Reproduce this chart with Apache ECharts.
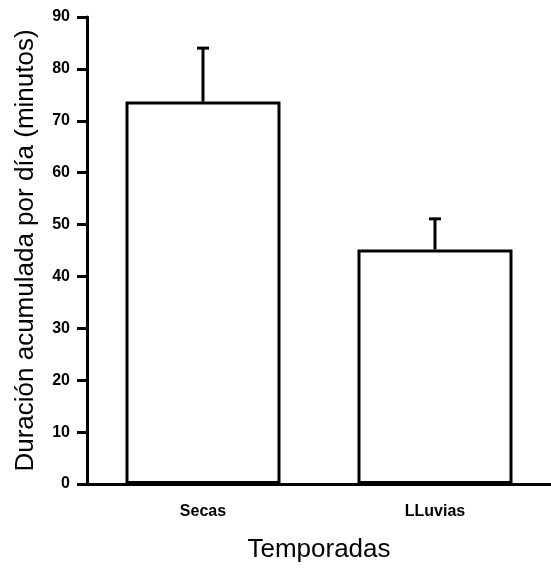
<!DOCTYPE html>
<html>
<head>
<meta charset="utf-8">
<script src="https://cdn.jsdelivr.net/npm/echarts@6/dist/echarts.min.js"></script>
<style>
html,body{margin:0;padding:0;background:#fff;}
#chart{width:551px;height:568px;}
</style>
</head>
<body>
<div id="chart"></div>
<script>
const categories = ['Secas', 'LLuvias'];
const means = [73.7, 45.2];
const errorTops = [84.0, 51.1];
const yTicks = [0, 10, 20, 30, 40, 50, 60, 70, 80, 90];

const chart = echarts.init(document.getElementById('chart'));
const font = 'Liberation Sans, Arial, sans-serif';

chart.setOption({
  animation: false,
  backgroundColor: '#fff',
  grid: { left: 87, top: 17, width: 472, bottom: 79, containLabel: false },
  xAxis: {
    type: 'category',
    data: categories,
    name: 'Temporadas',
    nameLocation: 'middle',
    nameGap: 53,
    nameTextStyle: { fontFamily: font, fontSize: 26, color: '#000' },
    axisLine: { lineStyle: { color: '#000', width: 3 } },
    axisTick: { alignWithLabel: true, length: 8, lineStyle: { color: '#000', width: 3 } },
    axisLabel: { fontFamily: font, fontSize: 16, color: '#000', fontWeight: 'bold', margin: 20 }
  },
  yAxis: {
    type: 'value',
    min: yTicks[0],
    max: yTicks[yTicks.length - 1],
    interval: 10,
    name: 'Duración acumulada por día (minutos)',
    nameLocation: 'middle',
    nameGap: 48,
    nameTextStyle: { fontFamily: font, fontSize: 26, color: '#000' },
    splitLine: { show: false },
    axisLine: { show: true, lineStyle: { color: '#000', width: 3 } },
    axisTick: { show: true, length: 10, lineStyle: { color: '#000', width: 3 } },
    axisLabel: { fontFamily: font, fontSize: 16, color: '#000', fontWeight: 'bold', margin: 17 }
  },
  series: [
    {
      type: 'bar',
      data: means,
      barWidth: 155,
      itemStyle: { color: '#fff', borderColor: '#000', borderWidth: 3 },
      z: 2
    },
    {
      type: 'custom',
      data: categories.map((c, i) => [i, means[i], errorTops[i]]),
      renderItem: function (params, api) {
        const x = api.value(0);
        const base = api.coord([x, api.value(1)]);
        const top = api.coord([x, api.value(2)]);
        const hw = 6;
        return {
          type: 'group',
          children: [
            { type: 'line', shape: { x1: base[0], y1: base[1], x2: top[0], y2: top[1] }, style: { stroke: '#000', lineWidth: 3 } },
            { type: 'line', shape: { x1: top[0] - hw, y1: top[1], x2: top[0] + hw, y2: top[1] }, style: { stroke: '#000', lineWidth: 3 } }
          ]
        };
      },
      z: 3
    }
  ]
});
</script>
</body>
</html>
